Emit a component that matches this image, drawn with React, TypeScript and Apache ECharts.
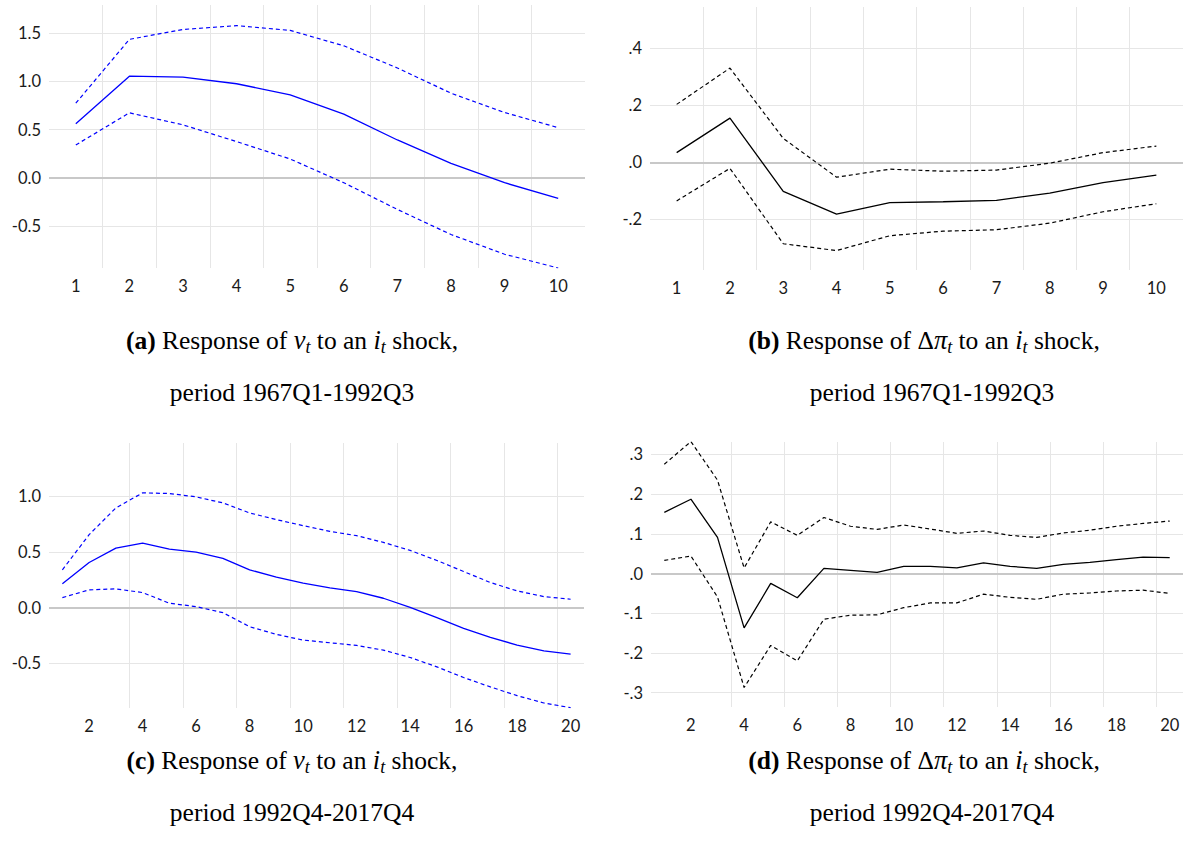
import React, { useEffect, useRef } from 'react';
import * as echarts from 'echarts';

// ---------- data ----------
const periods10 = ['1', '2', '3', '4', '5', '6', '7', '8', '9', '10'];
const periods20 = ['1', '2', '3', '4', '5', '6', '7', '8', '9', '10', '11', '12', '13', '14', '15', '16', '17', '18', '19', '20'];

// (a) response of v to i, 1967Q1-1992Q3
const aResp = [0.56, 1.055, 1.045, 0.976, 0.861, 0.66, 0.392, 0.149, -0.052, -0.215];
const aUpper = [0.774, 1.437, 1.54, 1.58, 1.53, 1.37, 1.14, 0.878, 0.677, 0.52];
const aLower = [0.34, 0.674, 0.549, 0.375, 0.194, -0.052, -0.33, -0.59, -0.795, -0.938];

// (b) response of dpi to i, 1967Q1-1992Q3
const bResp = [0.034, 0.155, -0.102, -0.181, -0.141, -0.138, -0.133, -0.108, -0.071, -0.045];
const bUpper = [0.203, 0.33, 0.084, -0.052, -0.024, -0.031, -0.027, -0.003, 0.034, 0.057];
const bLower = [-0.135, -0.021, -0.285, -0.309, -0.257, -0.241, -0.236, -0.213, -0.173, -0.145];

// (c) response of v to i, 1992Q4-2017Q4
const cResp = [0.213, 0.405, 0.534, 0.579, 0.525, 0.498, 0.441, 0.339, 0.273, 0.219, 0.177, 0.144, 0.084, 0.003, -0.09, -0.186, -0.267, -0.336, -0.387, -0.417];
const cUpper = [0.339, 0.654, 0.894, 1.029, 1.023, 0.993, 0.939, 0.849, 0.789, 0.735, 0.684, 0.645, 0.585, 0.513, 0.423, 0.324, 0.225, 0.15, 0.099, 0.075];
const cLower = [0.09, 0.159, 0.168, 0.135, 0.039, 0.009, -0.045, -0.171, -0.24, -0.291, -0.315, -0.339, -0.381, -0.447, -0.531, -0.627, -0.711, -0.789, -0.855, -0.897];

// (d) response of dpi to i, 1992Q4-2017Q4
const dResp = [0.154, 0.187, 0.091, -0.137, -0.025, -0.061, 0.013, 0.008, 0.003, 0.018, 0.018, 0.014, 0.027, 0.018, 0.013, 0.023, 0.028, 0.035, 0.041, 0.04];
const dUpper = [0.275, 0.332, 0.235, 0.014, 0.13, 0.096, 0.141, 0.119, 0.111, 0.122, 0.112, 0.101, 0.107, 0.096, 0.091, 0.102, 0.109, 0.119, 0.126, 0.132];
const dLower = [0.033, 0.044, -0.059, -0.287, -0.181, -0.22, -0.115, -0.105, -0.104, -0.086, -0.074, -0.074, -0.052, -0.06, -0.065, -0.052, -0.049, -0.044, -0.042, -0.05];

// tick values
const ticksA = [-0.5, 0, 0.5, 1.0, 1.5];
const ticksB = [-0.2, 0, 0.2, 0.4];
const ticksC = [-0.5, 0, 0.5, 1.0];
const ticksD = [-0.3, -0.2, -0.1, 0, 0.1, 0.2, 0.3];

// captions
const captionA1 = '{b|(a)}{r| Response of }{i|v}{s|t}{r| to an }{i|i}{s|t}{r| shock,}';
const captionB1 = '{b|(b)}{r| Response of Δ}{i|π}{s|t}{r| to an }{i|i}{s|t}{r| shock,}';
const captionC1 = '{b|(c)}{r| Response of }{i|v}{s|t}{r| to an }{i|i}{s|t}{r| shock,}';
const captionD1 = '{b|(d)}{r| Response of Δ}{i|π}{s|t}{r| to an }{i|i}{s|t}{r| shock,}';
const period1 = 'period 1967Q1-1992Q3';
const period2 = 'period 1992Q4-2017Q4';

// ---------- style ----------
const GRID_COLOR = '#e6e6e6';
const ZERO_COLOR = '#c8c8c8';
const LABEL_FONT = 'Lato';
const LABEL_SIZE = 16.5;
const SERIF = 'Liberation Serif';
const CAP_SIZE = 25.5;

const fmtLead = (v: number) => v.toFixed(1);
const fmtNoLead = (v: number) => v.toFixed(1).replace('0.', '.');

function xAxisCfg(gridIndex: number, data: string[], every2: boolean) {
  const intervalFn = every2 ? (i: number) => i % 2 === 1 : 0;
  return {
    type: 'category',
    gridIndex,
    data,
    boundaryGap: true,
    axisLine: { show: false },
    axisTick: { show: false },
    axisLabel: {
      interval: intervalFn,
      margin: 9,
      color: '#1a1a1a',
      fontFamily: LABEL_FONT,
      fontSize: LABEL_SIZE,
    },
    splitLine: {
      show: true,
      interval: intervalFn,
      showMinLine: false,
      showMaxLine: false,
      lineStyle: { color: GRID_COLOR, width: 1 },
    },
  };
}

function yAxisCfg(gridIndex: number, min: number, max: number, ticks: number[], fmt: (v: number) => string) {
  return {
    type: 'value',
    gridIndex,
    min,
    max,
    axisLine: { show: false },
    axisTick: { show: false, customValues: ticks },
    axisLabel: {
      customValues: ticks,
      formatter: (v: number) => fmt(v),
      margin: 8,
      color: '#1a1a1a',
      fontFamily: LABEL_FONT,
      fontSize: LABEL_SIZE,
    },
    splitLine: { show: true, lineStyle: { color: GRID_COLOR, width: 1 } },
  };
}

function seriesFor(idx: number, color: string, resp: number[], up: number[], lo: number[]) {
  const dashed = { color, width: 1.2, type: [4, 3] as any };
  return [
    {
      type: 'line',
      xAxisIndex: idx,
      yAxisIndex: idx,
      data: up,
      symbol: 'none',
      lineStyle: dashed,
      z: 3,
      markLine: {
        silent: true,
        z: 1,
        symbol: ['none', 'none'],
        label: { show: false },
        lineStyle: { color: ZERO_COLOR, width: 2, type: 'solid' },
        data: [{ yAxis: 0 }],
      },
    },
    {
      type: 'line',
      xAxisIndex: idx,
      yAxisIndex: idx,
      data: lo,
      symbol: 'none',
      lineStyle: dashed,
      z: 3,
    },
    {
      type: 'line',
      xAxisIndex: idx,
      yAxisIndex: idx,
      data: resp,
      symbol: 'none',
      lineStyle: { color, width: 1.3, type: 'solid' },
      z: 3,
    },
  ];
}

const richStyles = {
  r: { fontFamily: SERIF, fontSize: CAP_SIZE, color: '#000', lineHeight: 32 },
  b: { fontFamily: SERIF, fontSize: CAP_SIZE, fontWeight: 'bold', color: '#000', lineHeight: 32 },
  i: { fontFamily: SERIF, fontSize: CAP_SIZE + 1, fontStyle: 'italic', color: '#000', lineHeight: 32 },
  s: { fontFamily: SERIF, fontSize: 18, fontStyle: 'italic', color: '#000', verticalAlign: 'bottom', lineHeight: 18 },
};

function caption(x: number, y: number, text: string, rich: boolean) {
  return {
    type: 'text',
    x,
    y,
    silent: true,
    style: {
      text,
      fill: '#000',
      fontFamily: SERIF,
      fontSize: CAP_SIZE,
      lineHeight: 32,
      align: 'center',
      verticalAlign: 'middle',
      ...(rich ? { rich: richStyles } : {}),
    },
  };
}

export default function App() {
  const ref = useRef<HTMLDivElement>(null);

  useEffect(() => {
    if (!ref.current) return;
    const chart = echarts.init(ref.current, undefined, { renderer: 'svg' });
    const option: any = {
      animation: false,
      backgroundColor: '#ffffff',
      grid: [
        { left: 49, top: 5, width: 536, height: 263 },
        { left: 650, top: 7, width: 533, height: 263 },
        { left: 49, top: 443, width: 535, height: 265 },
        { left: 651, top: 442, width: 532, height: 265 },
      ],
      xAxis: [
        xAxisCfg(0, periods10, false),
        xAxisCfg(1, periods10, false),
        xAxisCfg(2, periods20, true),
        xAxisCfg(3, periods20, true),
      ],
      yAxis: [
        yAxisCfg(0, -0.938, 1.794, ticksA, fmtLead),
        yAxisCfg(1, -0.377, 0.544, ticksB, fmtNoLead),
        yAxisCfg(2, -0.9, 1.476, ticksC, fmtLead),
        yAxisCfg(3, -0.336, 0.331, ticksD, fmtNoLead),
      ],
      series: [
        ...seriesFor(0, '#0000ff', aResp, aUpper, aLower),
        ...seriesFor(1, '#000000', bResp, bUpper, bLower),
        ...seriesFor(2, '#0000ff', cResp, cUpper, cLower),
        ...seriesFor(3, '#000000', dResp, dUpper, dLower),
      ],
      graphic: [
        caption(292, 340, captionA1, true),
        caption(292, 392, period1, false),
        caption(924, 340, captionB1, true),
        caption(932, 392, period1, false),
        caption(292, 760, captionC1, true),
        caption(292, 812, period2, false),
        caption(924, 760, captionD1, true),
        caption(932, 812, period2, false),
      ],
    };
    chart.setOption(option);
    return () => chart.dispose();
  }, []);

  return (
    <div
      ref={ref}
      style={{ position: 'absolute', left: 0, top: 0, width: 1185, height: 855, background: '#fff' }}
    />
  );
}
